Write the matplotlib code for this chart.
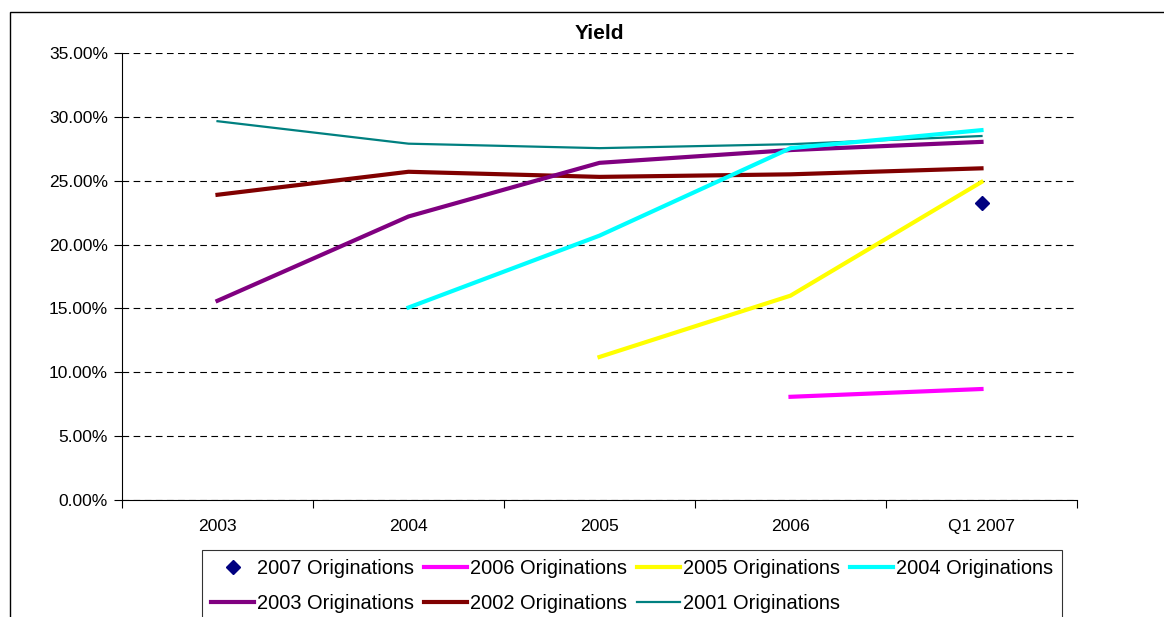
import matplotlib
matplotlib.use('Agg')
import matplotlib.pyplot as plt
import matplotlib.patches as mpatches
from matplotlib.ticker import PercentFormatter, FixedLocator, NullFormatter
import numpy as np

plt.rcParams['font.family'] = ['Liberation Sans', 'DejaVu Sans']

# categories and yield values (%) per origination year
periods = ['2003', '2004', '2005', '2006', 'Q1 2007']
orig_2007 = [None, None, None, None, 23.25]
orig_2006 = [None, None, None, 8.08, 8.69]
orig_2005 = [None, None, 11.2, 16.0, 24.9]
orig_2004 = [None, 15.07, 20.7, 27.55, 28.96]
orig_2003 = [15.6, 22.2, 26.4, 27.4, 28.04]
orig_2002 = [23.9, 25.7, 25.3, 25.5, 25.97]
orig_2001 = [29.66, 27.9, 27.55, 27.86, 28.5]


def arr(v):
    return np.array([np.nan if x is None else x for x in v], dtype=float)


fig = plt.figure(figsize=(11.64, 6.17), dpi=100)
W, H = 1164, 617
ax = fig.add_axes([122 / W, 1 - 500 / H, (1077 - 122) / W, (500 - 53) / H])

# outer chart border (runs off the right and bottom of the picture)
fig.patches.append(mpatches.Rectangle((10 / W, -0.05), 1.2, 1 - 12 / H + 0.05,
                                      transform=fig.transFigure, fill=False,
                                      edgecolor='black', linewidth=1.0))

x = np.arange(len(periods))
h2007, = ax.plot(x, arr(orig_2007), linestyle='none', marker='D', markersize=7,
                 color='#000080', label='2007 Originations')
h2006, = ax.plot(x, arr(orig_2006), color='#FF00FF', lw=3, label='2006 Originations')
h2005, = ax.plot(x, arr(orig_2005), color='#FFFF00', lw=3, label='2005 Originations')
h2004, = ax.plot(x, arr(orig_2004), color='#00FFFF', lw=3, label='2004 Originations')
h2003, = ax.plot(x, arr(orig_2003), color='#800080', lw=3, label='2003 Originations')
h2002, = ax.plot(x, arr(orig_2002), color='#800000', lw=3, label='2002 Originations')
h2001, = ax.plot(x, arr(orig_2001), color='#008080', lw=1.6, label='2001 Originations')

# draw order as in the original
h2001.set_zorder(2)
h2002.set_zorder(2.1)
h2003.set_zorder(2.2)
h2004.set_zorder(2.3)
h2005.set_zorder(2.4)
h2006.set_zorder(2.5)
h2007.set_zorder(3)

ax.set_xlim(-0.5, len(periods) - 0.5)
ax.set_ylim(0, 35)
ax.set_yticks(np.arange(0, 36, 5))
ax.yaxis.set_major_formatter(PercentFormatter(decimals=2))
ax.yaxis.grid(True, linestyle=(0, (6, 4)), color='black', linewidth=0.8)

# category labels in the middle, tick marks between categories
ax.xaxis.set_major_locator(FixedLocator(np.arange(-0.5, len(periods), 1.0)))
ax.xaxis.set_major_formatter(NullFormatter())
ax.xaxis.set_minor_locator(FixedLocator(x))
ax.set_xticklabels(periods, minor=True)
ax.tick_params(axis='x', which='minor', length=0, pad=13.5, labelsize=12.6)
ax.tick_params(axis='x', which='major', direction='out', length=6, width=0.8)
ax.tick_params(axis='y', direction='out', length=6, width=0.8, labelsize=12.5, pad=4)

for s in ['top', 'right']:
    ax.spines[s].set_visible(False)
ax.spines['left'].set_linewidth(0.8)
ax.spines['bottom'].set_linewidth(0.8)

ax.set_title('Yield', fontsize=15, fontweight='bold', pad=10)

handles = [h2007, h2003, h2006, h2002, h2005, h2001, h2004]
leg = fig.legend(handles=handles, labels=[h.get_label() for h in handles],
                 ncol=4, loc='upper left', bbox_to_anchor=(202 / W, 1 - 550 / H),
                 fontsize=14.4, frameon=True, fancybox=False, edgecolor='black',
                 handlelength=2.15, handletextpad=0.15, columnspacing=0.5,
                 borderpad=0.45, labelspacing=0.81, borderaxespad=0)
leg.get_frame().set_linewidth(0.8)

fig.savefig('out.png', dpi=100)
